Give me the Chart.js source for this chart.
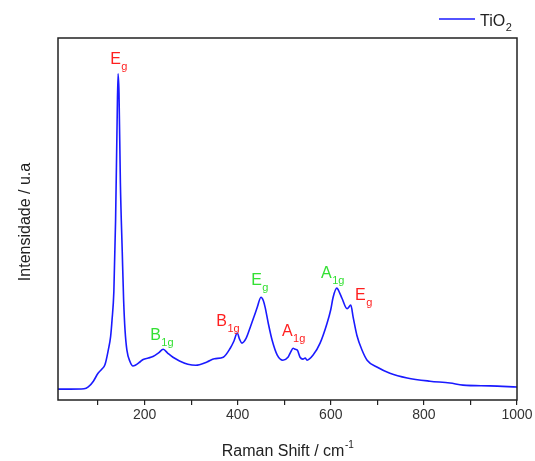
<!DOCTYPE html>
<html>
<head>
<meta charset="utf-8">
<script src="https://cdn.jsdelivr.net/npm/chart.js@4"></script>
<style>
  html, body { margin: 0; padding: 0; background: #fff; }
  #wrap { width: 535px; height: 461px; }
</style>
</head>
<body>
<div id="wrap"><canvas id="myChart"></canvas></div>
<script>
// Raman spectrum of TiO2
const ramanShift = [14, 40, 70, 79, 90, 100, 108, 115, 122, 127, 130, 134, 137.7, 141, 143, 145, 148, 152, 155, 158,
    162, 169, 175, 180, 190, 197, 208, 218, 230, 240, 250, 261, 275, 293, 310, 334, 350, 369, 384, 392,
    399, 404, 409, 418, 427, 435, 442, 450, 455, 459, 466, 474, 485, 497, 508, 514, 519, 524, 528, 534,
    540, 545, 549, 562, 577, 592, 600, 605, 613, 619, 624, 635, 643, 648, 656, 667, 678, 699, 727, 764,
    813, 856, 884, 942, 1000];
const intensity = [3.0, 3.0, 3.1, 3.6, 5.2, 7.4, 8.5, 9.8, 13.8, 17.5, 22, 30, 49.6, 77, 90.1, 85, 60, 41, 27.5, 19.3,
    13.8, 10.5, 9.4, 9.6, 10.5, 11.2, 11.6, 12.0, 13.0, 14.0, 12.9, 11.8, 10.8, 9.9, 9.6, 10.5, 11.4, 11.8, 14.3, 16.3,
    18.5, 16.8, 15.7, 17.0, 20.1, 23.0, 25.6, 28.4, 27.5, 25.6, 21.0, 16.5, 12.4, 11.0, 11.8, 13.3, 14.3, 14.0, 13.8, 11.8,
    11.3, 11.6, 11.0, 12.4, 15.7, 21.2, 25.0, 28.4, 30.9, 29.6, 28.1, 25.2, 26.2, 22.9, 17.9, 13.8, 11.0, 9.1, 7.4, 6.1,
    5.2, 4.7, 4.1, 3.9, 3.6];

// band labels: main letter, subscript, anchor (shift, intensity), colour
const bandText = ['E', 'B', 'B', 'E', 'A', 'A', 'E'];
const bandSub = ['g', '1g', '1g', 'g', '1g', '1g', 'g'];
const bandX = [126, 212, 354, 429, 495, 579, 652];
const bandY = [92.8, 16.5, 20.4, 31.7, 17.6, 33.6, 27.5];
const bandRed = [true, false, true, false, true, false, true];

const FONT = '"Liberation Sans", Arial, sans-serif';
const LINE = '#1a1aff';

function subText(c, x, y, main, sub, size, subSize, drop) {
    c.font = size + 'px ' + FONT;
    c.fillText(main, x, y);
    const w = c.measureText(main).width;
    c.font = subSize + 'px ' + FONT;
    c.fillText(sub, x + w + 0.5, y + drop);
}

const extras = {
    id: 'extras',
    afterDraw(chart) {
        const c = chart.ctx;
        const a = chart.chartArea;
        const xs = chart.scales.x, ys = chart.scales.y;
        c.save();
        // frame
        c.strokeStyle = '#222';
        c.lineWidth = 1.5;
        c.strokeRect(a.left, a.top, a.right - a.left, a.bottom - a.top);

        // band labels
        c.textAlign = 'left';
        c.textBaseline = 'alphabetic';
        for (let i = 0; i < bandText.length; i++) {
            c.fillStyle = bandRed[i] ? '#ff1f1f' : '#33e033';
            subText(c, xs.getPixelForValue(bandX[i]), ys.getPixelForValue(bandY[i]),
                bandText[i], bandSub[i], 16, 11, 6);
        }

        // legend
        c.strokeStyle = LINE;
        c.lineWidth = 1.6;
        c.beginPath();
        c.moveTo(439, 19);
        c.lineTo(475, 19);
        c.stroke();
        c.fillStyle = '#222';
        subText(c, 480, 26, 'TiO', '2', 16, 11, 5);

        // axis titles
        c.fillStyle = '#222';
        c.font = '16px ' + FONT;
        const t1 = 'Raman Shift / cm', t2 = '-1';
        const w1 = c.measureText(t1).width;
        c.font = '10px ' + FONT;
        const w2 = c.measureText(t2).width;
        const x0 = (a.left + a.right) / 2 - (w1 + w2) / 2;
        c.font = '16px ' + FONT;
        c.fillText(t1, x0, 456);
        c.font = '10px ' + FONT;
        c.fillText(t2, x0 + w1 + 0.5, 448);

        c.translate(24, (a.top + a.bottom) / 2 + 3);
        c.rotate(-Math.PI / 2);
        c.textAlign = 'center';
        c.font = '16px ' + FONT;
        c.fillText('Intensidade / u.a', 0, 6);
        c.restore();
    }
};

new Chart(document.getElementById('myChart'), {
    type: 'line',
    data: {
        datasets: [{
            label: 'TiO2',
            data: ramanShift.map((x, i) => ({ x: x, y: intensity[i] })),
            borderColor: LINE,
            borderWidth: 1.6,
            pointRadius: 0,
            cubicInterpolationMode: 'monotone',
            fill: false
        }]
    },
    options: {
        responsive: true,
        maintainAspectRatio: false,
        animation: false,
        layout: { padding: { left: 58, right: 18, top: 38, bottom: 0 } },
        plugins: { legend: { display: false }, tooltip: { enabled: false } },
        scales: {
            x: {
                type: 'linear',
                min: 14,
                max: 1000,
                border: { display: false },
                grid: { drawOnChartArea: false, tickLength: 5, color: '#222', lineWidth: 1.2 },
                ticks: {
                    stepSize: 100,
                    includeBounds: false,
                    autoSkip: false,
                    maxRotation: 0,
                    padding: 2,
                    color: '#333',
                    font: { family: FONT, size: 14 },
                    callback: v => (v % 200 === 0 ? v : '')
                },
                afterFit: s => { s.height = 61; }
            },
            y: {
                display: false,
                min: 0,
                max: 100
            }
        }
    },
    plugins: [extras]
});
</script>
</body>
</html>
